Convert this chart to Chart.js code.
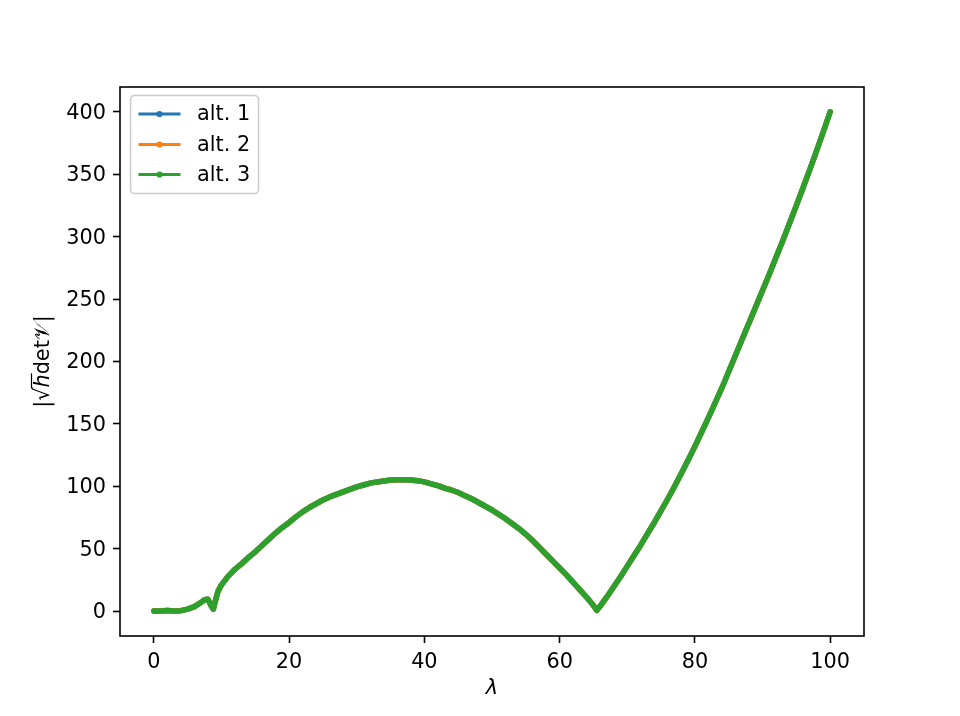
<!DOCTYPE html>
<html>
<head>
<meta charset="utf-8">
<script src="https://cdn.jsdelivr.net/npm/chart.js@4/dist/chart.umd.min.js"></script>
<style>
html,body{margin:0;padding:0;background:#fff;}
canvas{display:block;}
</style>
</head>
<body>
<canvas id="c" width="960" height="716" style="width:960px;height:716px"></canvas>
<script>
// lambda values (x)
const lam = [0,1,2,3,4,5,6,7,7.5,8,8.5,8.8,9,9.5,10,11,12,13,14,15,16,17,18,19,20,21,22,23,24,25,26,27,28,29,30,31,32,33,34,35,36,37,38,39,40,41,42,43,44,45,46,47,48,49,50,51,52,53,54,55,56,57,58,59,60,61,62,63,64,65,65.5,66,67,68,69,70,71,72,73,74,75,76,77,78,79,80,81,82,83,84,85,86,87,88,89,90,91,92,93,94,95,96,97,98,99,100];
// |sqrt(h) det V| — the three alternatives coincide in the picture
const alt1 = [0,0,0.5,0,0.3,1.5,3.5,7,9,9.5,4,1.5,6,16,21,28,33.5,38,43,47.5,52.5,57.5,62.5,67,71,75.5,79.5,83,86,89,91.5,93.5,95.5,97.5,99.5,101,102.5,103.5,104.3,105,105.3,105.3,105,104.5,103.5,102,100.5,98.5,97,95,92.5,90,87,84,81,77.5,74,70,66,61.5,56.5,51,45.5,40,34.5,29,23,17,11,4.5,0.5,4,11.5,19.5,27.5,36,44.5,53,62,71,80.5,90,100,110.5,121,132,143.5,155,167,179,192,205,218,231,244,257,270,283.5,297,311,325,339.5,354,369,384.5,400];
const alt2 = alt1;
const alt3 = alt1;
const seriesNames = ['alt. 1','alt. 2','alt. 3'];
const seriesColors = ['#1f77b4','#ff7f0e','#2ca02c'];
const xTicks = [0,20,40,60,80,100];
const yTicks = [0,50,100,150,200,250,300,350,400];

const FONT = '"DejaVu Sans", sans-serif';
const FS = 20.8;
const toXY = vals => lam.map((x,i)=>({x:x,y:vals[i]}));
const seriesVals = [alt1,alt2,alt3];

const datasets = seriesVals.map((v,i)=>({
  label: seriesNames[i],
  data: toXY(v),
  borderColor: seriesColors[i],
  backgroundColor: seriesColors[i],
  borderWidth: 5.5,
  borderCapStyle: 'round',
  borderJoinStyle: 'round',
  pointRadius: 0,
  pointHoverRadius: 0,
  tension: 0,
  fill: false,
  order: 2 - i
}));

const framePlugin = {
  id: 'frame',
  afterDraw(chart){
    const ctx = chart.ctx, a = chart.chartArea;
    ctx.save();
    ctx.strokeStyle = '#000';
    ctx.lineWidth = 1.6;
    ctx.strokeRect(a.left, a.top, a.right-a.left, a.bottom-a.top);
    // legend
    const lx = 130.5, ly = 95.5, lw = 128, lh = 98, r = 4;
    ctx.beginPath();
    ctx.moveTo(lx+r, ly);
    ctx.arcTo(lx+lw, ly, lx+lw, ly+lh, r);
    ctx.arcTo(lx+lw, ly+lh, lx, ly+lh, r);
    ctx.arcTo(lx, ly+lh, lx, ly, r);
    ctx.arcTo(lx, ly, lx+lw, ly, r);
    ctx.closePath();
    ctx.fillStyle = 'rgba(255,255,255,0.8)';
    ctx.fill();
    ctx.strokeStyle = '#cccccc';
    ctx.lineWidth = 1.6;
    ctx.stroke();
    const rows = [114, 144.5, 174.5];
    seriesNames.forEach((n,i)=>{
      const y = rows[i];
      ctx.strokeStyle = seriesColors[i];
      ctx.lineWidth = 3.1;
      ctx.beginPath(); ctx.moveTo(138.5, y); ctx.lineTo(180.5, y); ctx.stroke();
      ctx.fillStyle = seriesColors[i];
      ctx.beginPath(); ctx.arc(159.5, y, 3.1, 0, Math.PI*2); ctx.fill();
      ctx.fillStyle = '#000';
      ctx.font = FS + 'px ' + FONT;
      ctx.textBaseline = 'middle';
      ctx.textAlign = 'left';
      ctx.fillText(n, 197, y + 1);
    });
    // x axis label
    ctx.fillStyle = '#000';
    ctx.font = 'italic ' + FS + 'px ' + FONT;
    ctx.textAlign = 'center';
    ctx.textBaseline = 'middle';
    ctx.fillText('\u03BB', (a.left + a.right)/2, 689);
    // y axis label
    ctx.save();
    ctx.translate(44, (a.top + a.bottom)/2);
    ctx.rotate(-Math.PI/2);
    ctx.fillStyle = '#000';
    ctx.textBaseline = 'middle';
    const parts = [
      {t:'|', f:FS+'px '+FONT},
      {t:'\u221A', f:FS+'px '+FONT},
      {t:'h', f:'italic '+FS+'px '+FONT, over:true},
      {t:'det', f:FS+'px '+FONT},
      {t:'\uD835\uDCB1', f:FS+'px "DejaVu Sans", "DejaVu Serif", serif'},
      {t:'|', f:FS+'px '+FONT}
    ];
    let total = 0;
    parts.forEach(p=>{ ctx.font = p.f; p.w = ctx.measureText(p.t).width; total += p.w; });
    let cx = -total/2;
    parts.forEach(p=>{
      ctx.font = p.f;
      ctx.textAlign = 'left';
      ctx.fillText(p.t, cx, 0);
      if (p.over){
        ctx.strokeStyle = '#000'; ctx.lineWidth = 1.2;
        ctx.beginPath(); ctx.moveTo(cx-1, -12.5); ctx.lineTo(cx+p.w+1, -12.5); ctx.stroke();
      }
      cx += p.w;
    });
    ctx.restore();
    ctx.restore();
  }
};

new Chart(document.getElementById('c'), {
  type: 'line',
  data: { datasets },
  options: {
    responsive: false,
    animation: false,
    events: [],
    layout: { padding: { left: 0, right: 96, top: 87, bottom: 0 } },
    plugins: { legend: { display: false }, tooltip: { enabled: false } },
    scales: {
      x: {
        type: 'linear',
        min: -5, max: 105,
        afterBuildTicks: s => { s.ticks = xTicks.map(v=>({value:v})); },
        afterFit: s => { s.height = 80; },
        grid: { display: true, drawOnChartArea: false, drawTicks: true, tickLength: 7, tickColor: '#000', tickWidth: 1.6 },
        border: { display: false },
        ticks: { color: '#000', font: { family: FONT, size: FS }, padding: 7, maxRotation: 0, autoSkip: false },
        title: { display: false }
      },
      y: {
        type: 'linear',
        min: -20, max: 420,
        afterBuildTicks: s => { s.ticks = yTicks.map(v=>({value:v})); },
        afterFit: s => { s.width = 120; },
        grid: { display: true, drawOnChartArea: false, drawTicks: true, tickLength: 7, tickColor: '#000', tickWidth: 1.6 },
        border: { display: false },
        ticks: { color: '#000', font: { family: FONT, size: FS }, padding: 7, labelOffset: 1.5, autoSkip: false }
      }
    }
  },
  plugins: [framePlugin]
});
</script>
</body>
</html>
